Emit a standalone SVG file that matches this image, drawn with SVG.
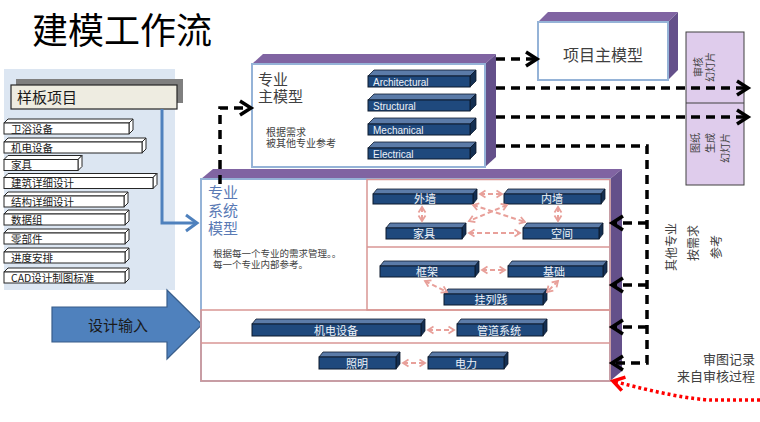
<svg xmlns="http://www.w3.org/2000/svg" width="760" height="422" viewBox="0 0 760 422">
<defs>
<style>
.t{font-family:"Liberation Sans","Noto Sans CJK SC",sans-serif}
.c{font-family:"Noto Sans CJK SC","Liberation Sans",sans-serif}
.pt{fill:#8064A2}
.ps{fill:#64508A}
.fr{fill:#fff;stroke:#95B3D7;stroke-width:2}
.bf{fill:#1F497D;stroke:#0D1B2E;stroke-width:1}
.btp{fill:#5B7BA8;stroke:#0D1B2E;stroke-width:0.8}
.bsd{fill:#142F52;stroke:#0D1B2E;stroke-width:0.8}
.bt{font-family:"Noto Sans CJK SC","Liberation Sans",sans-serif;font-size:11px;fill:#EEF2F7;text-anchor:middle}
.bl{font-family:"Liberation Sans",sans-serif;font-size:10px;fill:#EEF2F7}
.wi{fill:#fff;stroke:#262626;stroke-width:1}
.li{font-family:"Noto Sans CJK SC","Liberation Sans",sans-serif;font-size:10.5px;fill:#1a1a1a}
.sec{fill:none;stroke:#D99694;stroke-width:1.5}
.blk{fill:none;stroke:#000;stroke-width:3.5;stroke-dasharray:9 6}
.pk{fill:none;stroke:#E8A09A;stroke-width:2;stroke-dasharray:5 3;marker-start:url(#pkh);marker-end:url(#pkh)}
.vt{font-family:"Noto Sans CJK SC",sans-serif;fill:#404040}
</style>
<marker id="chk" markerUnits="userSpaceOnUse" markerWidth="18" markerHeight="18" viewBox="0 0 18 18" refX="14" refY="9" orient="auto" style="overflow:visible"><path d="M3,2 L14,9 L3,16" fill="none" stroke="#000" stroke-width="3.5"/></marker>
<marker id="chb" markerUnits="userSpaceOnUse" markerWidth="18" markerHeight="18" viewBox="0 0 18 18" refX="14" refY="9" orient="auto" style="overflow:visible"><path d="M3,1 L14,9 L3,17" fill="none" stroke="#4F81BD" stroke-width="3"/></marker>
<marker id="chr" markerUnits="userSpaceOnUse" markerWidth="18" markerHeight="18" viewBox="0 0 18 18" refX="14" refY="9" orient="auto" style="overflow:visible"><path d="M3,2 L14,9 L3,16" fill="none" stroke="#FF0000" stroke-width="3.5"/></marker>
<marker id="pkh" markerUnits="userSpaceOnUse" markerWidth="8" markerHeight="8" viewBox="0 0 8 8" refX="6.5" refY="4" orient="auto-start-reverse" style="overflow:visible"><path d="M1,0.5 L6.5,4 L1,7.5" fill="none" stroke="#E8A09A" stroke-width="1.8"/></marker>
</defs>
<rect width="760" height="422" fill="#fff"/>

<text x="32" y="44" class="c" font-size="36" fill="#000">建模工作流</text>

<g id="template-panel">
<rect x="4" y="69" width="171" height="221" fill="#DCE6F2"/>
<rect x="16" y="79" width="167" height="24" fill="#7F7F7F"/>
<rect x="11" y="85" width="166" height="24" fill="#EEECE1" stroke="#262626" stroke-width="1.2"/>
<text x="17" y="103" class="c" font-size="15" fill="#1a1a1a">样板项目</text>
</g>

<g id="template-items">
<g id="item1"><polygon class="wi" points="4,123 8,119 133,119 129,123"/><polygon class="wi" points="129,123 133,119 133,130 129,134"/><rect class="wi" x="4" y="123" width="125" height="11"/><text class="li" x="11" y="132.5">卫浴设备</text></g>
<g id="item2"><polygon class="wi" points="4,142 8,138 146,138 142,142"/><polygon class="wi" points="142,142 146,138 146,149 142,153"/><rect class="wi" x="4" y="142" width="138" height="11"/><text class="li" x="11" y="151.5">机电设备</text></g>
<g id="item3"><polygon class="wi" points="4,159.5 8,155.5 82,155.5 78,159.5"/><polygon class="wi" points="78,159.5 82,155.5 82,166.5 78,170.5"/><rect class="wi" x="4" y="159.5" width="74" height="11"/><text class="li" x="11" y="169">家具</text></g>
<g id="item4"><polygon class="wi" points="4,177.5 8,173.5 157,173.5 153,177.5"/><polygon class="wi" points="153,177.5 157,173.5 157,184.5 153,188.5"/><rect class="wi" x="4" y="177.5" width="149" height="11"/><text class="li" x="11" y="187">建筑详细设计</text></g>
<g id="item5"><polygon class="wi" points="4,196 8,192 128,192 124,196"/><polygon class="wi" points="124,196 128,192 128,203 124,207"/><rect class="wi" x="4" y="196" width="120" height="11"/><text class="li" x="11" y="205.5">结构详细设计</text></g>
<g id="item6"><polygon class="wi" points="4,214 8,210 129,210 125,214"/><polygon class="wi" points="125,214 129,210 129,221 125,225"/><rect class="wi" x="4" y="214" width="121" height="11"/><text class="li" x="11" y="223.5">数据组</text></g>
<g id="item7"><polygon class="wi" points="4,233 8,229 129,229 125,233"/><polygon class="wi" points="125,233 129,229 129,240 125,244"/><rect class="wi" x="4" y="233" width="121" height="11"/><text class="li" x="11" y="242.5">零部件</text></g>
<g id="item8"><polygon class="wi" points="4,252 8,248 129,248 125,252"/><polygon class="wi" points="125,252 129,248 129,259 125,263"/><rect class="wi" x="4" y="252" width="121" height="11"/><text class="li" x="11" y="261.5">进度安排</text></g>
<g id="item9"><polygon class="wi" points="4,272 8,268 129,268 125,272"/><polygon class="wi" points="125,272 129,268 129,279 125,283"/><rect class="wi" x="4" y="272" width="121" height="11"/><text class="li" x="11" y="281.5">CAD设计制图标准</text></g>
</g>

<g id="design-input">
<polygon points="52,307 167,307 167,290 202,324.5 167,359 167,342 52,342" fill="#4F81BD" stroke="#385D8A" stroke-width="1.2"/>
<text x="118" y="331" class="c" font-size="15" fill="#1a1a1a" text-anchor="middle">设计输入</text>
</g>

<g id="slides">
<rect x="686" y="32" width="58" height="153" fill="#DFCCEC" stroke="#404040" stroke-width="1"/>
<line x1="686" y1="103" x2="744" y2="103" stroke="#404040" stroke-width="1"/>
<text class="vt" font-size="10" text-anchor="middle" transform="translate(701.5,67) rotate(-90)">审核</text>
<text class="vt" font-size="10" text-anchor="middle" transform="translate(713.5,67) rotate(-90)">幻灯片</text>
<text class="vt" font-size="10" text-anchor="end" transform="translate(698.8,133) rotate(-90)">图纸</text>
<text class="vt" font-size="10" text-anchor="end" transform="translate(713.8,133) rotate(-90)">生成</text>
<text class="vt" font-size="10" text-anchor="end" transform="translate(728.8,133) rotate(-90)">幻灯片</text>
</g>

<g id="project-model">
<polygon class="pt" points="538,22 548,12 678,12 668,22"/>
<polygon class="ps" points="668,22 678,12 678,70 668,80"/>
<rect class="fr" x="538" y="22" width="130" height="58"/>
<text x="603" y="61" class="c" font-size="16" fill="#404040" text-anchor="middle">项目主模型</text>
</g>

<g id="discipline-model">
<polygon class="pt" points="252,64 263,54 496,54 485,64"/>
<polygon class="ps" points="485,64 496,54 496,157 485,167"/>
<rect class="fr" x="252" y="64" width="233" height="103"/>
<text x="258" y="85" class="c" font-size="15" fill="#404040">专业</text>
<text x="258" y="102" class="c" font-size="15" fill="#404040">主模型</text>
<text x="266" y="135.5" class="c" font-size="10" fill="#404040">根据需求</text>
<text x="266" y="147" class="c" font-size="10" fill="#404040">被其他专业参考</text>
<g id="bar-arch"><polygon class="btp" points="368,76 374,70 476,70 470,76"/><polygon class="bsd" points="470,76 476,70 476,81 470,87"/><rect class="bf" x="368" y="76" width="102" height="11"/><text class="bl" x="373" y="85.5">Architectural</text></g>
<g id="bar-struct"><polygon class="btp" points="368,100 374,94 476,94 470,100"/><polygon class="bsd" points="470,100 476,94 476,105 470,111"/><rect class="bf" x="368" y="100" width="102" height="11"/><text class="bl" x="373" y="109.5">Structural</text></g>
<g id="bar-mech"><polygon class="btp" points="368,124 374,118 476,118 470,124"/><polygon class="bsd" points="470,124 476,118 476,129 470,135"/><rect class="bf" x="368" y="124" width="102" height="11"/><text class="bl" x="373" y="133.5">Mechanical</text></g>
<g id="bar-elec"><polygon class="btp" points="368,148 374,142 476,142 470,148"/><polygon class="bsd" points="470,148 476,142 476,153 470,159"/><rect class="bf" x="368" y="148" width="102" height="11"/><text class="bl" x="373" y="157.5">Electrical</text></g>
</g>

<g id="system-model">
<polygon class="pt" points="201,179 213,169 622,169 610,179"/>
<polygon class="ps" points="610,179 622,169 622,371 610,381"/>
<rect class="fr" x="201" y="179" width="409" height="202"/>
<rect class="sec" x="367" y="179.5" width="243" height="130.5"/>
<line class="sec" x1="367" y1="247" x2="610" y2="247"/>
<rect class="sec" x="201" y="310" width="409" height="71"/>
<line class="sec" x1="201" y1="343" x2="610" y2="343"/>
<text x="208" y="198" class="c" font-size="15" fill="#5A7AB5">专业</text>
<text x="208" y="216" class="c" font-size="15" fill="#5A7AB5">系统</text>
<text x="208" y="234" class="c" font-size="15" fill="#5A7AB5">模型</text>
<text x="213" y="257" class="c" font-size="9.5" fill="#404040">根据每一个专业的需求管理。。</text>
<text x="213" y="268" class="c" font-size="9.5" fill="#404040">每一个专业内部参考。</text>
</g>

<g id="node-waiqiang"><polygon class="btp" points="373,194 377,189 477,189 473,194"/><polygon class="bsd" points="473,194 477,189 477,199 473,204"/><rect class="bf" x="373" y="194" width="100" height="10"/><text class="bt" x="425" y="203">外墙</text></g>
<g id="node-neiqiang"><polygon class="btp" points="504,194 508,189 605,189 601,194"/><polygon class="bsd" points="601,194 605,189 605,199 601,204"/><rect class="bf" x="504" y="194" width="97" height="10"/><text class="bt" x="552" y="203">内墙</text></g>
<g id="node-jiaju"><polygon class="btp" points="386,228 390,223 466,223 462,228"/><polygon class="bsd" points="462,228 466,223 466,234 462,239"/><rect class="bf" x="386" y="228" width="76" height="11"/><text class="bt" x="424" y="238">家具</text></g>
<g id="node-kongjian"><polygon class="btp" points="523,228 527,223 603,223 599,228"/><polygon class="bsd" points="599,228 603,223 603,234 599,239"/><rect class="bf" x="523" y="228" width="76" height="11"/><text class="bt" x="562" y="238">空间</text></g>
<g id="node-kuangjia"><polygon class="btp" points="380,266 384,261 479,261 475,266"/><polygon class="bsd" points="475,266 479,261 479,272 475,277"/><rect class="bf" x="380" y="266" width="95" height="11"/><text class="bt" x="427" y="276">框架</text></g>
<g id="node-jichu"><polygon class="btp" points="508,266 512,261 607,261 603,266"/><polygon class="bsd" points="603,266 607,261 607,272 603,277"/><rect class="bf" x="508" y="266" width="95" height="11"/><text class="bt" x="554" y="276">基础</text></g>
<g id="node-gualiejian"><polygon class="btp" points="444,294 448,289 547,289 543,294"/><polygon class="bsd" points="543,294 547,289 547,300 543,305"/><rect class="bf" x="444" y="294" width="99" height="11"/><text class="bt" x="491" y="304">挂列践</text></g>
<g id="node-jidian"><polygon class="btp" points="252,324 256,319 425,319 421,324"/><polygon class="bsd" points="421,324 425,319 425,331 421,336"/><rect class="bf" x="252" y="324" width="169" height="12"/><text class="bt" x="336" y="335">机电设备</text></g>
<g id="node-guandao"><polygon class="btp" points="457,324 461,319 547,319 543,324"/><polygon class="bsd" points="543,324 547,319 547,331 543,336"/><rect class="bf" x="457" y="324" width="86" height="12"/><text class="bt" x="499" y="335">管道系统</text></g>
<g id="node-zhaoming"><polygon class="btp" points="319,357 323,352 400,352 396,357"/><polygon class="bsd" points="396,357 400,352 400,364 396,369"/><rect class="bf" x="319" y="357" width="77" height="12"/><text class="bt" x="357" y="368">照明</text></g>
<g id="node-dianli"><polygon class="btp" points="428,357 432,352 508,352 504,357"/><polygon class="bsd" points="504,357 508,352 508,364 504,369"/><rect class="bf" x="428" y="357" width="76" height="12"/><text class="bt" x="466" y="368">电力</text></g>

<g id="connectors">
<path d="M162,109 V223 H197" fill="none" stroke="#4F81BD" stroke-width="3" marker-end="url(#chb)"/>
<path class="pk" d="M480,194 L502,194"/>
<path class="pk" d="M422,207 L422,221"/>
<path class="pk" d="M558,207 L558,221"/>
<path class="pk" d="M469,233 L520,233"/>
<path class="pk" d="M473,205 L525,222"/>
<path class="pk" d="M507,205 L469,221"/>
<path class="pk" d="M482,270 L505,270"/>
<path class="pk" d="M425,281 L447,292"/>
<path class="pk" d="M558,281 L547,292"/>
<path class="pk" d="M428,330 L454,330"/>
<path class="pk" d="M403,363 L425,363"/>
<path class="blk" d="M220,184 V108 H251" marker-end="url(#chk)"/>
<path class="blk" d="M496,59 H537" marker-end="url(#chk)"/>
<path class="blk" d="M496,88 H748" marker-end="url(#chk)"/>
<path class="blk" d="M496,117 H748" marker-end="url(#chk)"/>
<path class="blk" d="M496,146 H647 V363 H612" marker-end="url(#chk)"/>
<path class="blk" d="M647,223 H612" marker-end="url(#chk)"/>
<path class="blk" d="M647,285 H612" marker-end="url(#chk)"/>
<path class="blk" d="M647,327 H612" marker-end="url(#chk)"/>
<path d="M760,400 L712,400 Q680,399 613,381" fill="none" stroke="#FF0000" stroke-width="3.5" stroke-dasharray="3 3" marker-end="url(#chr)"/>
</g>

<g id="labels">
<text class="vt" font-size="12" text-anchor="middle" transform="translate(675.5,247) rotate(-90)">其他专业</text>
<text class="vt" font-size="12" text-anchor="middle" transform="translate(697.5,243) rotate(-90)">按需求</text>
<text class="vt" font-size="12" text-anchor="middle" transform="translate(720.5,247) rotate(-90)">参考</text>
<text x="755" y="364" class="c" font-size="13" fill="#404040" text-anchor="end">审图记录</text>
<text x="755" y="381" class="c" font-size="13" fill="#404040" text-anchor="end">来自审核过程</text>
</g>
</svg>
